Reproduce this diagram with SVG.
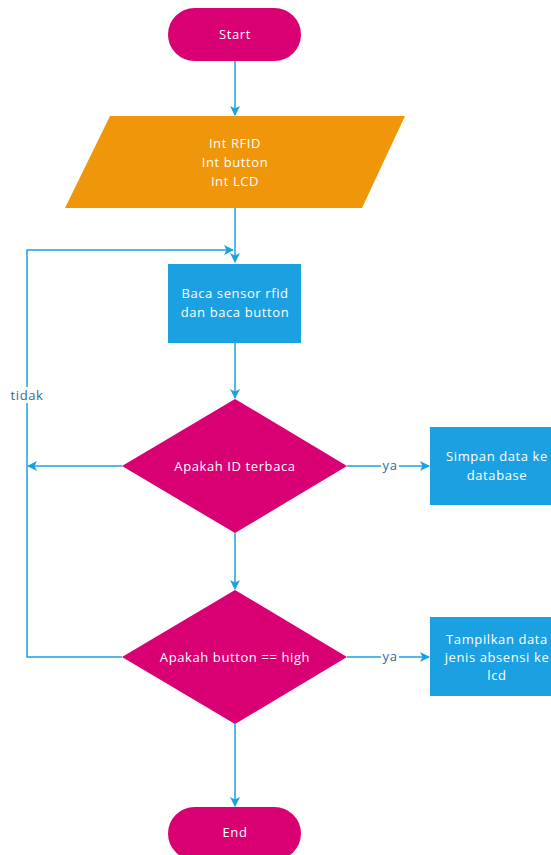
<svg xmlns="http://www.w3.org/2000/svg" width="551" height="855" viewBox="0 0 551 855">
<defs>
<style>
.term{fill:#D80073;}
.io{fill:#F0960A;}
.proc{fill:#1BA1E2;}
.dec{fill:#D80073;}
.t{font-family:"Open Sans","Noto Sans","Liberation Sans",sans-serif;font-size:13px;letter-spacing:0.6px;fill:#FFFFFF;text-anchor:middle;dominant-baseline:central;}
.lbl{font-family:"Open Sans","Noto Sans","Liberation Sans",sans-serif;font-size:13px;letter-spacing:0.6px;fill:#2F6A9A;text-anchor:middle;dominant-baseline:central;}
.c{fill:none;stroke:#1BA1E2;stroke-width:1.5;}
</style>
<marker id="ahL" viewBox="0 0 10 10" refX="9" refY="5" markerWidth="10" markerHeight="10" markerUnits="userSpaceOnUse" orient="auto">
<path d="M0,0 L10,5 L0,10 L2.5,5 Z" fill="#1BA1E2"/>
</marker>
</defs>
<rect width="551" height="855" fill="#FFFFFF"/>
<g id="connectors">
<path class="c" d="M235,61 L235,115" marker-end="url(#ahL)"/>
<path class="c" d="M235,208 L235,262" marker-end="url(#ahL)"/>
<path class="c" d="M235,343 L235,398" marker-end="url(#ahL)"/>
<path class="c" d="M235,533 L235,589" marker-end="url(#ahL)"/>
<path class="c" d="M235,724 L235,806" marker-end="url(#ahL)"/>
<path class="c" d="M122,466 L28,466" marker-end="url(#ahL)"/>
<path class="c" d="M122,657 L27,657 L27,250 L233,250" marker-end="url(#ahL)"/>
<path class="c" d="M347,466 L429,466" marker-end="url(#ahL)"/>
<path class="c" d="M347,657 L429,657" marker-end="url(#ahL)"/>
<rect x="9" y="387" width="37" height="16" fill="#FFFFFF"/>
<text class="lbl" x="27" y="395">tidak</text>
<rect x="381" y="458" width="18" height="15" fill="#FFFFFF"/>
<text class="lbl" x="390" y="465">ya</text>
<rect x="381" y="649" width="18" height="15" fill="#FFFFFF"/>
<text class="lbl" x="390" y="656">ya</text>
</g>
<g id="start">
<rect class="term" x="168" y="8" width="133" height="53" rx="26.5" ry="26.5"/>
<text class="t" x="235" y="34">Start</text>
</g>
<g id="init">
<polygon class="io" points="110,116 405,116 362,208 65,208"/>
<text class="t" x="235" y="143">Int RFID</text>
<text class="t" x="235" y="162">Int button</text>
<text class="t" x="235" y="181">Int LCD</text>
</g>
<g id="baca">
<rect class="proc" x="168" y="264" width="133" height="79"/>
<text class="t" x="235" y="293">Baca sensor rfid</text>
<text class="t" x="235" y="312">dan baca button</text>
</g>
<g id="cek-id">
<polygon class="dec" points="235,399 347,466 235,533 122,466"/>
<text class="t" x="235" y="466">Apakah ID terbaca</text>
</g>
<g id="simpan">
<rect class="proc" x="430" y="427" width="133" height="78"/>
<text class="t" x="497" y="456">Simpan data ke</text>
<text class="t" x="497" y="475">database</text>
</g>
<g id="cek-button">
<polygon class="dec" points="235,590 347,657 235,724 122,657"/>
<text class="t" x="235" y="657">Apakah button == high</text>
</g>
<g id="tampilkan">
<rect class="proc" x="430" y="617" width="133" height="79"/>
<text class="t" x="497" y="639">Tampilkan data</text>
<text class="t" x="497" y="657">jenis absensi ke</text>
<text class="t" x="497" y="675">lcd</text>
</g>
<g id="end">
<rect class="term" x="168" y="807" width="133" height="53" rx="26.5" ry="26.5"/>
<text class="t" x="235" y="832">End</text>
</g>
</svg>
